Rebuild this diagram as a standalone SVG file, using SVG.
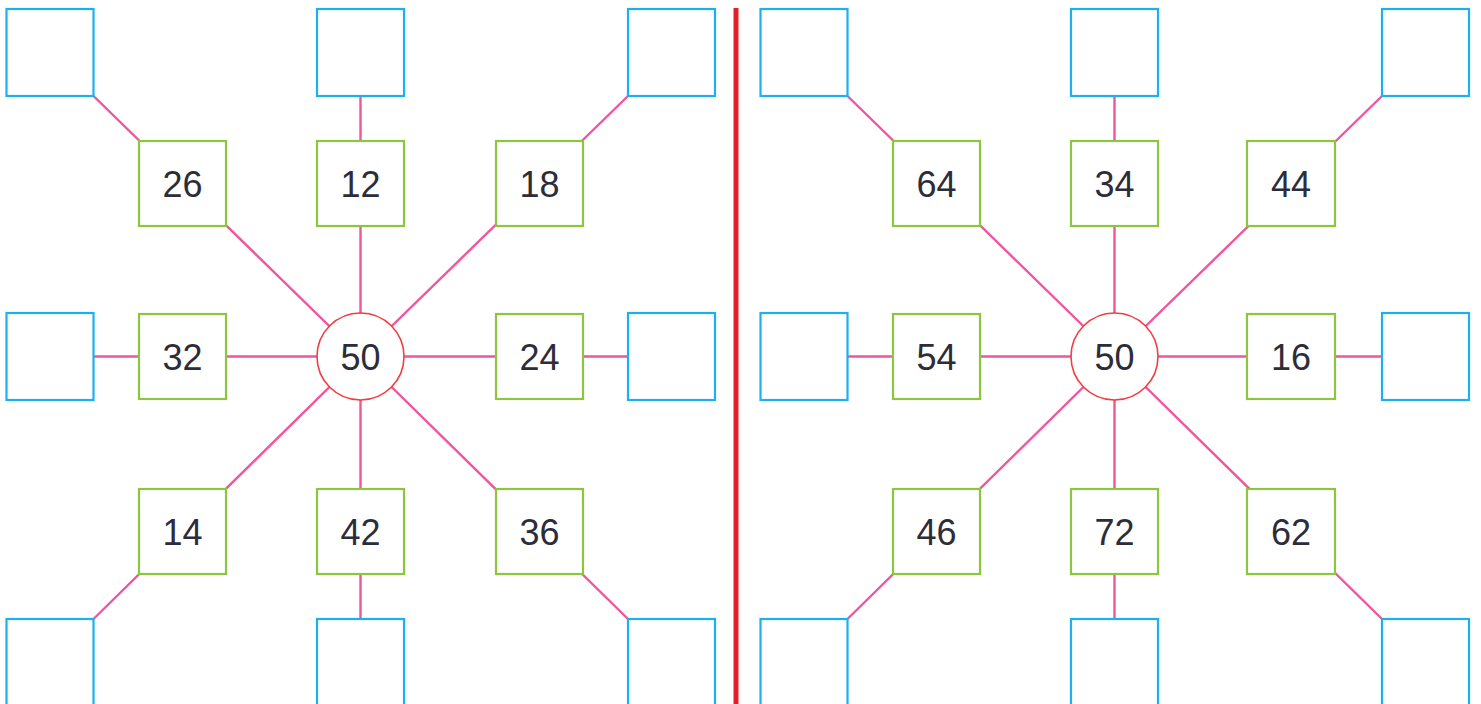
<svg xmlns="http://www.w3.org/2000/svg" width="1481" height="704" viewBox="0 0 1481 704">
<style>
.b{fill:#fff;stroke:#1cb1ec;stroke-width:2.2}
.g{fill:#fff;stroke:#8cc63f;stroke-width:2.2}
.c{fill:#fff;stroke:#ef3e42;stroke-width:1.6}
.l{stroke:#f0559e;stroke-width:2.4;fill:none}
.t{font-family:"Liberation Sans",Arial,sans-serif;font-size:36px;fill:#2d2d3a;text-anchor:middle;dominant-baseline:central}
</style>
<rect width="1481" height="704" fill="#fff"/>
<line x1="736" y1="8" x2="736" y2="704" stroke="#e41e26" stroke-width="5"/>
<g id="connectors">
<path class="l" d="M360.5 356.5L93.5 96M360.5 356.5V96M360.5 356.5L628 96M360.5 356.5H93.5M360.5 356.5H628M360.5 356.5L93.5 619M360.5 356.5V619M360.5 356.5L628 619"/>
<path class="l" d="M1114.5 356.5L847.5 96M1114.5 356.5V96M1114.5 356.5L1382 96M1114.5 356.5H847.5M1114.5 356.5H1382M1114.5 356.5L847.5 619M1114.5 356.5V619M1114.5 356.5L1382 619"/>
</g>
<g id="L-b1"><rect class="b" x="6.5" y="9" width="87" height="87"/></g>
<g id="L-b2"><rect class="b" x="317" y="9" width="87" height="87"/></g>
<g id="L-b3"><rect class="b" x="628" y="9" width="87" height="87"/></g>
<g id="L-b4"><rect class="b" x="6.5" y="313" width="87" height="87"/></g>
<g id="L-b5"><rect class="b" x="628" y="313" width="87" height="87"/></g>
<g id="L-b6"><rect class="b" x="6.5" y="619" width="87" height="87"/></g>
<g id="L-b7"><rect class="b" x="317" y="619" width="87" height="87"/></g>
<g id="L-b8"><rect class="b" x="628" y="619" width="87" height="87"/></g>
<g id="L-g26"><rect class="g" x="139" y="141" width="87" height="85"/><text class="t" x="182.5" y="184">26</text></g>
<g id="L-g12"><rect class="g" x="317" y="141" width="87" height="85"/><text class="t" x="360.5" y="184">12</text></g>
<g id="L-g18"><rect class="g" x="496" y="141" width="87" height="85"/><text class="t" x="539.5" y="184">18</text></g>
<g id="L-g32"><rect class="g" x="139" y="314" width="87" height="85"/><text class="t" x="182.5" y="357">32</text></g>
<g id="L-g24"><rect class="g" x="496" y="314" width="87" height="85"/><text class="t" x="539.5" y="357">24</text></g>
<g id="L-g14"><rect class="g" x="139" y="489" width="87" height="85"/><text class="t" x="182.5" y="532">14</text></g>
<g id="L-g42"><rect class="g" x="317" y="489" width="87" height="85"/><text class="t" x="360.5" y="532">42</text></g>
<g id="L-g36"><rect class="g" x="496" y="489" width="87" height="85"/><text class="t" x="539.5" y="532">36</text></g>
<g id="L-c"><circle class="c" cx="360.5" cy="356.5" r="43.5"/><text class="t" x="360.5" y="357">50</text></g>
<g id="R-b1"><rect class="b" x="760.5" y="9" width="87" height="87"/></g>
<g id="R-b2"><rect class="b" x="1071" y="9" width="87" height="87"/></g>
<g id="R-b3"><rect class="b" x="1382" y="9" width="87" height="87"/></g>
<g id="R-b4"><rect class="b" x="760.5" y="313" width="87" height="87"/></g>
<g id="R-b5"><rect class="b" x="1382" y="313" width="87" height="87"/></g>
<g id="R-b6"><rect class="b" x="760.5" y="619" width="87" height="87"/></g>
<g id="R-b7"><rect class="b" x="1071" y="619" width="87" height="87"/></g>
<g id="R-b8"><rect class="b" x="1382" y="619" width="87" height="87"/></g>
<g id="R-g64"><rect class="g" x="893" y="141" width="87" height="85"/><text class="t" x="936.5" y="184">64</text></g>
<g id="R-g34"><rect class="g" x="1071" y="141" width="87" height="85"/><text class="t" x="1114.5" y="184">34</text></g>
<g id="R-g44"><rect class="g" x="1247" y="141" width="88" height="85"/><text class="t" x="1291" y="184">44</text></g>
<g id="R-g54"><rect class="g" x="893" y="314" width="87" height="85"/><text class="t" x="936.5" y="357">54</text></g>
<g id="R-g16"><rect class="g" x="1247" y="314" width="88" height="85"/><text class="t" x="1291" y="357">16</text></g>
<g id="R-g46"><rect class="g" x="893" y="489" width="87" height="85"/><text class="t" x="936.5" y="532">46</text></g>
<g id="R-g72"><rect class="g" x="1071" y="489" width="87" height="85"/><text class="t" x="1114.5" y="532">72</text></g>
<g id="R-g62"><rect class="g" x="1247" y="489" width="88" height="85"/><text class="t" x="1291" y="532">62</text></g>
<g id="R-c"><circle class="c" cx="1114.5" cy="356.5" r="43.5"/><text class="t" x="1114.5" y="357">50</text></g>
</svg>
